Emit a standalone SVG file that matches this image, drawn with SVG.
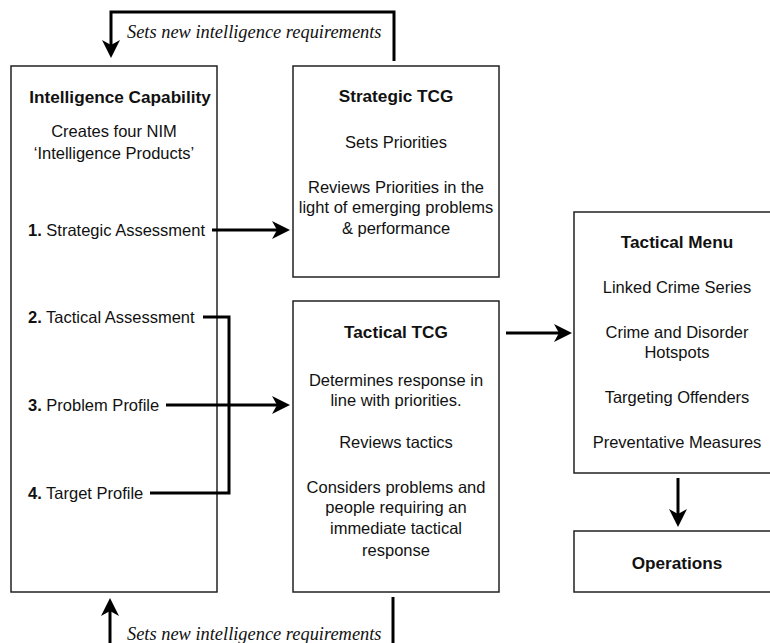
<svg xmlns="http://www.w3.org/2000/svg" width="770" height="643" viewBox="0 0 770 643">
<style>
.box{fill:#fff;stroke:#222;stroke-width:1.5}
.t{font-family:"Liberation Sans",Arial,sans-serif;font-size:16.5px;fill:#111;text-anchor:middle}
.l{text-anchor:start}
.h{font-weight:bold;font-size:17.2px}
.b{font-weight:bold}
.conn{fill:none;stroke:#000;stroke-width:3;stroke-linejoin:miter}
.it{font-family:"Liberation Serif","Times New Roman",serif;font-style:italic;font-size:18.4px;fill:#111}
</style>
<defs>
<marker id="ah" markerUnits="userSpaceOnUse" viewBox="0 0 18 18" markerWidth="18" markerHeight="18" refX="6" refY="9" orient="auto">
<path d="M0,0 L18,9 L0,18 L5,9 Z" fill="#000"/>
</marker>
</defs>
<rect width="770" height="643" fill="#fff"/>

<g id="intelligence-capability">
<rect class="box" x="11" y="66" width="206" height="526"/>
<text class="t h" x="120" y="103">Intelligence Capability</text>
<text class="t" x="114" y="137">Creates four NIM</text>
<text class="t" x="114" y="159">‘Intelligence Products’</text>
<text class="t l" x="28" y="236"><tspan class="b">1.</tspan> Strategic Assessment</text>
<text class="t l" x="28" y="323"><tspan class="b">2.</tspan> Tactical Assessment</text>
<text class="t l" x="28" y="411"><tspan class="b">3.</tspan> Problem Profile</text>
<text class="t l" x="28" y="499"><tspan class="b">4.</tspan> Target Profile</text>
</g>

<g id="strategic-tcg">
<rect class="box" x="293" y="66" width="206" height="211"/>
<text class="t h" x="396" y="102">Strategic TCG</text>
<text class="t" x="396" y="148">Sets Priorities</text>
<text class="t" x="396" y="193">Reviews Priorities in the</text>
<text class="t" x="396" y="213">light of emerging problems</text>
<text class="t" x="396" y="234">&amp; performance</text>
</g>

<g id="tactical-tcg">
<rect class="box" x="293" y="301" width="206" height="291"/>
<text class="t h" x="396" y="338">Tactical TCG</text>
<text class="t" x="396" y="386">Determines response in</text>
<text class="t" x="396" y="406">line with priorities.</text>
<text class="t" x="396" y="448">Reviews tactics</text>
<text class="t" x="396" y="493">Considers problems and</text>
<text class="t" x="396" y="513">people requiring an</text>
<text class="t" x="396" y="534">immediate tactical</text>
<text class="t" x="396" y="556">response</text>
</g>

<g id="tactical-menu">
<rect class="box" x="574" y="212" width="216" height="261"/>
<text class="t h" x="677" y="248">Tactical Menu</text>
<text class="t" x="677" y="293">Linked Crime Series</text>
<text class="t" x="677" y="338">Crime and Disorder</text>
<text class="t" x="677" y="358">Hotspots</text>
<text class="t" x="677" y="403">Targeting Offenders</text>
<text class="t" x="677" y="448">Preventative Measures</text>
</g>

<g id="operations">
<rect class="box" x="574" y="531" width="216" height="61"/>
<text class="t h" x="677" y="569">Operations</text>
</g>

<g id="connectors">
<path class="conn" d="M394,61 V12 H111 V46" marker-end="url(#ah)"/>
<text class="it" x="127" y="38">Sets new intelligence requirements</text>
<path class="conn" d="M212,230 H278" marker-end="url(#ah)"/>
<path class="conn" d="M203,317 H229 V493 H150"/>
<path class="conn" d="M166,405 H278" marker-end="url(#ah)"/>
<path class="conn" d="M506,333 H560" marker-end="url(#ah)"/>
<path class="conn" d="M678,478 V515" marker-end="url(#ah)"/>
<path class="conn" d="M393,597 V643"/>
<path class="conn" d="M110,643 V610" marker-end="url(#ah)"/>
<text class="it" x="127" y="640">Sets new intelligence requirements</text>
</g>
</svg>
